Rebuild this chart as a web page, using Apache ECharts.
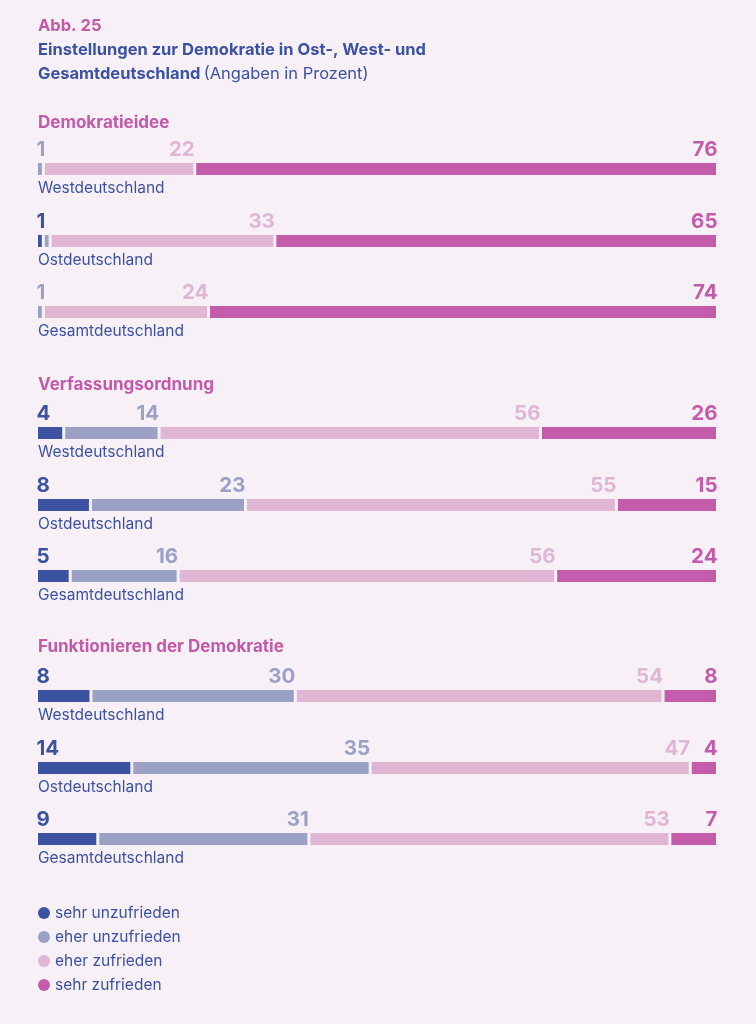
<!DOCTYPE html>
<html><head><meta charset="utf-8">
<script src="https://cdn.jsdelivr.net/npm/echarts@6/dist/echarts.min.js"></script>
<style>html,body{margin:0;padding:0;background:#f7f1f7;}#c{width:756px;height:1024px;}</style>
</head><body><div id="c"></div>
<script>
// ---- data ----
const seriesNames = ['sehr unzufrieden', 'eher unzufrieden', 'eher zufrieden', 'sehr zufrieden'];
const groups = ['Demokratieidee', 'Verfassungsordnung', 'Funktionieren der Demokratie'];
const regions = ['Westdeutschland', 'Ostdeutschland', 'Gesamtdeutschland'];
// values per row: [sehr unzufrieden, eher unzufrieden, eher zufrieden, sehr zufrieden]
const demokratieidee = [[0, 1, 22, 76], [1, 1, 33, 65], [0, 1, 24, 74]];
const verfassungsordnung = [[4, 14, 56, 26], [8, 23, 55, 15], [5, 16, 56, 24]];
const funktionieren = [[8, 30, 54, 8], [14, 35, 47, 4], [9, 31, 53, 7]];
const groupData = [demokratieidee, verfassungsordnung, funktionieren];

// ---- style ----
const BG = '#f7f1f7';
const colors = ['#3c53a1', '#9aa1c4', '#dfb6d3', '#c35dab'];
const BLUE = '#3b51a2';
const PINK = '#c35aa9';
const FONT = 'Inter, "Noto Sans", sans-serif';
const groupTop = [163, 427, 690];
const headingMid = [122.5, 384.5, 647];
const rowStep = 71.5;
const LEFT = 38, RIGHT = 716, BAR_H = 12, GAP = 3;
const plotW = RIGHT - LEFT;

const grids = [], xAxes = [], yAxes = [], series = [], graphics = [];

graphics.push({type: 'text', x: LEFT, y: 26, style: {text: 'Abb. 25', fill: PINK, font: 'bold 16.5px ' + FONT, verticalAlign: 'middle'}});
graphics.push({type: 'text', x: LEFT, y: 50, style: {text: 'Einstellungen zur Demokratie in Ost-, West- und', fill: BLUE, font: 'bold 16.5px ' + FONT, verticalAlign: 'middle'}});
graphics.push({type: 'text', x: LEFT, y: 74, style: {
  text: '{b|Gesamtdeutschland} {n|(Angaben in Prozent)}', verticalAlign: 'middle',
  rich: {b: {fill: BLUE, font: 'bold 16.5px ' + FONT}, n: {fill: BLUE, font: '16.5px ' + FONT}}
}});

let gi = 0;
groupData.forEach((rows, g) => {
  graphics.push({type: 'text', x: LEFT, y: headingMid[g], style: {text: groups[g], fill: PINK, font: 'bold 17px ' + FONT, verticalAlign: 'middle'}});
  rows.forEach((vals, r) => {
    const top = Math.round(groupTop[g] + r * rowStep);
    const total = vals.reduce((a, b) => a + b, 0);
    grids.push({left: LEFT - GAP / 2, width: plotW + GAP, top: top - GAP / 2, height: BAR_H + GAP, containLabel: false});
    xAxes.push({type: 'value', gridIndex: gi, min: 0, max: total, show: false});
    yAxes.push({type: 'category', gridIndex: gi, data: [regions[r]], show: false});
    graphics.push({type: 'text', x: LEFT, y: top + 25, style: {text: regions[r], fill: BLUE, font: '15.5px ' + FONT, verticalAlign: 'middle'}});
    // label placement: first non-zero segment left-aligned at start, others right-aligned at end
    const firstIdx = vals.findIndex(v => v > 0);
    let cum = 0;
    let occupiedEnd = -Infinity;
    vals.forEach((v, k) => {
      cum += v;
      const endPx = cum / total * plotW;
      const txtW = String(v).length * 12;
      let show = v > 0;
      let left = k === firstIdx;
      if (show && !left && endPx - txtW < occupiedEnd) show = false;
      if (show) occupiedEnd = left ? txtW : endPx;
      series.push({
        type: 'bar', name: seriesNames[k], stack: 's' + gi,
        xAxisIndex: gi, yAxisIndex: gi, barWidth: BAR_H + GAP,
        itemStyle: {color: colors[k], borderColor: BG, borderWidth: GAP / 2},
        emphasis: {disabled: true}, silent: true, animation: false,
        label: {
          show: show,
          position: left ? [0, 0] : ['100%', 0],
          offset: [0, -2],
          align: left ? 'left' : 'right', verticalAlign: 'bottom',
          color: colors[k], fontFamily: FONT, fontWeight: 'bold', fontSize: 20.5, lineHeight: 20,
          formatter: String(v)
        },
        data: [v]
      });
    });
    gi++;
  });
});

const chart = echarts.init(document.getElementById('c'), null, {renderer: 'canvas'});
chart.setOption({
  backgroundColor: BG,
  animation: false,
  grid: grids, xAxis: xAxes, yAxis: yAxes, series: series,
  legend: {
    data: seriesNames.map((n, i) => ({name: n, itemStyle: {color: colors[i], borderWidth: 0}})),
    orient: 'vertical', left: LEFT, top: 905, padding: 0, icon: 'circle',
    itemWidth: 12, itemHeight: 12, itemGap: 8, selectedMode: false,
    textStyle: {color: BLUE, fontFamily: FONT, fontSize: 15.5}
  },
  graphic: graphics
});
</script></body></html>
